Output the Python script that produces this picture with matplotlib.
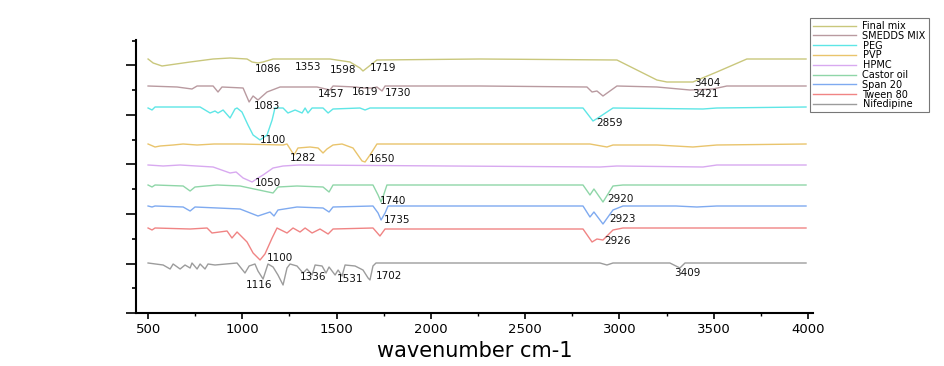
import matplotlib.pyplot as plt
from matplotlib.ticker import MultipleLocator

plt.rcParams['font.family'] = ['DejaVu Sans']

# traces: wavenumber (cm-1) and offset signal
final_wn = [500, 527, 574, 723, 845, 935, 1025, 1052, 1083, 1110, 1163, 1465, 1571, 1624, 1640, 1667, 1714,
            2261, 2987, 3199, 3252, 3390, 3517, 3676, 3990]
final_y = [254, 250, 247, 251, 254, 255, 254, 251, 250, 251, 254, 254, 251, 245, 242, 246, 253,
           254, 253, 233, 231, 231, 241, 254, 254]

smedds_wn = [500, 654, 733, 760, 845, 871, 892, 1004, 1036, 1057, 1083, 1131, 1200, 1396, 1465, 1481, 1600,
             1640, 1693, 1714, 1741, 1757, 2261, 2828, 2855, 2881, 2913, 2950, 2987, 3199, 3374, 3496, 3570, 3990]
smedds_y = [227, 226, 224, 227, 227, 221, 226, 225, 211, 217, 213, 221, 226, 226, 223, 227, 226,
            225, 225, 226, 222, 227, 227, 226, 221, 222, 217, 222, 227, 226, 223, 224, 227, 227]

peg_wn = [500, 521, 537, 633, 776, 829, 855, 871, 898, 935, 961, 972, 998, 1030, 1057, 1094, 1131, 1158,
          1173, 1216, 1242, 1280, 1317, 1333, 1348, 1370, 1428, 1455, 1481, 1624, 1651, 1677,
          2807, 2860, 2886, 2966, 3443, 3517, 3990]
peg_y = [205, 203, 206, 206, 206, 200, 202, 200, 203, 195, 204, 205, 201, 188, 178, 173, 178, 193,
         205, 205, 200, 203, 200, 205, 200, 205, 205, 200, 204, 205, 203, 205,
         205, 192, 195, 205, 204, 205, 206]

pvp_wn = [500, 537, 564, 633, 686, 760, 850, 988, 1216, 1237, 1274, 1295, 1359, 1402, 1428, 1449, 1481,
          1529, 1587, 1635, 1651, 1677, 1714, 2844, 2934, 2966, 3200, 3390, 3517, 3990]
pvp_y = [169, 166, 167, 168, 169, 168, 169, 169, 168, 169, 158, 165, 166, 165, 160, 164, 168,
         169, 165, 152, 151, 158, 169, 169, 166, 168, 168, 166, 168, 169]

hpmc_wn = [500, 580, 670, 845, 935, 967, 1004, 1052, 1083, 1110, 1163, 1216, 1300, 2897, 2987, 3443, 3517, 3990]
hpmc_y = [148, 147, 148, 146, 140, 141, 135, 131, 135, 138, 145, 147, 148, 146, 147, 146, 148, 148]

castor_wn = [500, 521, 537, 686, 723, 749, 866, 988, 1163, 1189, 1290, 1428, 1460, 1481, 1693, 1720, 1736,
             1746, 1767, 2807, 2844, 2865, 2913, 2966, 3019, 3990]
castor_y = [128, 126, 128, 127, 122, 126, 128, 127, 120, 126, 127, 126, 121, 128, 128, 118, 111,
            116, 128, 128, 118, 124, 111, 127, 128, 128]

span_wn = [500, 521, 537, 686, 723, 749, 988, 1083, 1147, 1168, 1189, 1290, 1428, 1460, 1481, 1693, 1720,
           1736, 1757, 1773, 2807, 2844, 2865, 2913, 2966, 3019, 3300, 3411, 3517, 3990]
span_y = [107, 106, 107, 106, 102, 106, 104, 97, 101, 97, 103, 106, 105, 101, 106, 107, 100,
          93, 100, 107, 107, 96, 101, 89, 103, 107, 107, 106, 107, 107]

tween_wn = [500, 521, 537, 723, 813, 839, 919, 945, 972, 1025, 1057, 1094, 1120, 1158, 1184, 1237, 1269,
            1306, 1333, 1370, 1412, 1455, 1481, 1693, 1730, 1757, 2807, 2855, 2881, 2913, 2966, 3019, 3990]
tween_y = [85, 83, 85, 84, 85, 80, 82, 75, 81, 71, 60, 53, 59, 75, 85, 80, 85,
           81, 85, 80, 84, 79, 84, 85, 77, 84, 84, 71, 74, 73, 83, 85, 85]

nif_wn = [500, 580, 617, 633, 670, 696, 723, 733, 760, 776, 802, 818, 855, 972, 1014, 1036, 1067, 1083,
          1110, 1136, 1163, 1189, 1216, 1237, 1253, 1290, 1322, 1343, 1370, 1386, 1423, 1444, 1460, 1492,
          1508, 1529, 1545, 1598, 1640, 1667, 1677, 1693, 1709, 2897, 2934, 2966, 3268, 3321, 3348, 3990]
nif_y = [50, 48, 44, 49, 44, 48, 45, 50, 44, 49, 44, 49, 48, 50, 40, 47, 49, 42,
         34, 49, 46, 38, 28, 45, 49, 47, 40, 44, 38, 48, 47, 40, 46, 38,
         43, 37, 48, 47, 43, 35, 33, 47, 50, 50, 48, 50, 50, 45, 50, 50]

names = ['Final mix', 'SMEDDS MIX', 'PEG', 'PVP', 'HPMC', 'Castor oil', 'Span 20', 'Tween 80', 'Nifedipine']
colors = ['#c9c77c', '#b99aa0', '#5ee6e6', '#e9c46c', '#d8a9f0', '#8fd6a8', '#7faaf0', '#f08484', '#9c9c9c']
traces = [(final_wn, final_y), (smedds_wn, smedds_y), (peg_wn, peg_y), (pvp_wn, pvp_y), (hpmc_wn, hpmc_y),
          (castor_wn, castor_y), (span_wn, span_y), (tween_wn, tween_y), (nif_wn, nif_y)]

# peak annotations: text, wavenumber, height
peak_text = ['1086', '1353', '1598', '1719', '3404',
             '1083', '1457', '1619', '1730', '3421',
             '1100', '2859',
             '1282', '1650',
             '1050',
             '1740', '2920',
             '1735', '2923',
             '1100', '2926',
             '1116', '1336', '1531', '1702', '3409']
peak_x = [1136, 1348, 1534, 1746, 3464,
          1131, 1470, 1651, 1826, 3454,
          1163, 2950,
          1322, 1741,
          1136,
          1799, 3003,
          1820, 3014,
          1200, 2992,
          1089, 1375, 1571, 1778, 3358]
peak_y = [244, 246, 243, 245, 230,
          207, 219, 221, 220, 219,
          173, 190,
          155, 154,
          130,
          112, 114,
          93, 94,
          55, 72,
          28, 36, 34, 37, 40]

fig = plt.figure(figsize=(9.44, 3.66), dpi=100)
ax = fig.add_axes([136 / 944, 1 - 313 / 366, 677 / 944, 273 / 366])

for (wn, y), name, c in zip(traces, names, colors):
    ax.plot(wn, y, color=c, lw=1.0, label=name)

for t, x, y in zip(peak_text, peak_x, peak_y):
    ax.text(x, y, t, fontsize=7.5, ha='center', va='center', color='#111111')

ax.set_xlim(436, 4027)
ax.set_ylim(0, 273)
ax.xaxis.set_major_locator(MultipleLocator(500))
ax.xaxis.set_minor_locator(MultipleLocator(250))
ax.yaxis.set_major_locator(MultipleLocator(49.5))
ax.yaxis.set_minor_locator(MultipleLocator(24.75))
ax.tick_params(axis='y', which='both', labelleft=False, direction='out', width=1.2)
ax.tick_params(axis='y', which='major', length=7)
ax.tick_params(axis='y', which='minor', length=3)
ax.tick_params(axis='x', which='major', length=4, width=1.2, labelsize=9.5)
ax.tick_params(axis='x', which='minor', length=2, width=1.0)
for s in ['top', 'right']:
    ax.spines[s].set_visible(False)
for s in ['left', 'bottom']:
    ax.spines[s].set_linewidth(1.5)

ax.set_xlabel('wavenumber cm-1', fontsize=15, labelpad=3)

leg = ax.legend(loc='upper left', bbox_to_anchor=(810 / 944, 1 - 18 / 366), bbox_transform=fig.transFigure,
                fontsize=7, frameon=True, fancybox=False, edgecolor='#555555', labelspacing=-0.02,
                handlelength=4.4, handletextpad=0.7, borderpad=0.3, borderaxespad=0)
leg.get_frame().set_linewidth(0.8)
for line in leg.get_lines():
    line.set_linewidth(1.0)

fig.savefig('out.png', dpi=100)
